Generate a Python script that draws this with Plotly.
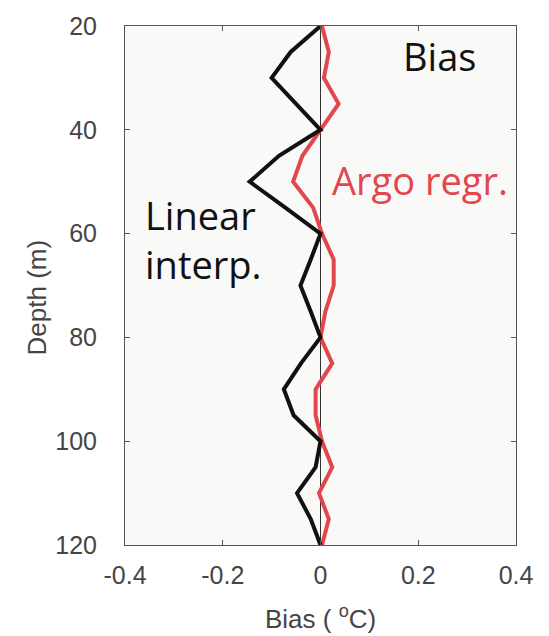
import plotly.graph_objects as go

depth = [20, 25, 30, 35, 40, 45, 50, 55, 60, 65, 70, 75, 80, 85, 90, 95, 100, 105, 110, 115, 120]
linear_interp = [0.0, -0.061, -0.10, -0.05, 0.0, -0.085, -0.145, -0.072, 0.0, -0.02, -0.041, -0.02,
                 0.0, -0.04, -0.075, -0.055, 0.0, -0.01, -0.048, -0.02, 0.0]
argo_regr = [0.003, 0.017, 0.007, 0.037, 0.0, -0.037, -0.056, -0.015, 0.003, 0.027, 0.027, 0.01,
             0.0, 0.024, -0.01, -0.01, 0.003, 0.024, -0.003, 0.017, 0.003]

x_ticks = [-0.4, -0.2, 0, 0.2, 0.4]
x_ticktext = ["-0.4", "-0.2", "0", "0.2", "0.4"]
y_ticks = [20, 40, 60, 80, 100, 120]

RED = "#e2474d"
BLACK = "#111111"
AXIS = "#555555"
TICKFONT = dict(family="Liberation Sans, Arial, sans-serif", size=25, color="#454545")
TEXTFONT = "Open Sans, Noto Sans, sans-serif"

fig = go.Figure()
fig.add_trace(go.Scatter(x=argo_regr, y=depth, mode="lines",
                         line=dict(color=RED, width=4), showlegend=False))
fig.add_trace(go.Scatter(x=linear_interp, y=depth, mode="lines",
                         line=dict(color=BLACK, width=4), showlegend=False))

fig.update_layout(
    width=549, height=636,
    margin=dict(l=125, r=33, t=17, b=91),
    paper_bgcolor="white",
    plot_bgcolor="#f9f9f8",
    showlegend=False,
    xaxis=dict(range=[-0.4, 0.4], tickvals=x_ticks, ticktext=x_ticktext,
               ticks="inside", ticklen=5, tickcolor=AXIS, tickwidth=1,
               showline=True, linecolor=AXIS, linewidth=1, mirror="allticks",
               showgrid=False, zeroline=True, zerolinecolor="#333333", zerolinewidth=1,
               tickfont=TICKFONT, ticklabelstandoff=8),
    yaxis=dict(range=[120, 20], tickvals=y_ticks,
               ticks="inside", ticklen=5, tickcolor=AXIS, tickwidth=1,
               showline=True, linecolor=AXIS, linewidth=1, mirror="allticks",
               showgrid=False, zeroline=False,
               tickfont=TICKFONT, ticklabelstandoff=22),
)

annotations = [
    dict(text="Bias", x=0.243, y=27.2, xref="x", yref="y", showarrow=False, yshift=7,
         xanchor="center", yanchor="middle", font=dict(family=TEXTFONT, size=38, color=BLACK)),
    dict(text="Argo regr.", x=0.204, y=50.9, xref="x", yref="y", showarrow=False, yshift=6,
         xanchor="center", yanchor="middle", font=dict(family=TEXTFONT, size=38, color=RED)),
    dict(text="Linear<br>interp.", x=-0.364, y=62.4, xref="x", yref="y", showarrow=False, yshift=7,
         xanchor="left", yanchor="middle", align="left",
         font=dict(family=TEXTFONT, size=38, color=BLACK)),
    dict(text="Bias ( <sup>o</sup>C)", x=0.5, y=-0.14, xref="paper", yref="paper", showarrow=False,
         xanchor="center", yanchor="middle", font=dict(family="Liberation Sans, Arial, sans-serif", size=26, color="#454545")),
    dict(text="Depth (m)", x=-0.225, y=0.477, xref="paper", yref="paper", showarrow=False,
         textangle=-90, xanchor="center", yanchor="middle",
         font=dict(family="Liberation Sans, Arial, sans-serif", size=26, color="#454545")),
]
fig.update_layout(annotations=annotations)

fig.write_html("out.html")
